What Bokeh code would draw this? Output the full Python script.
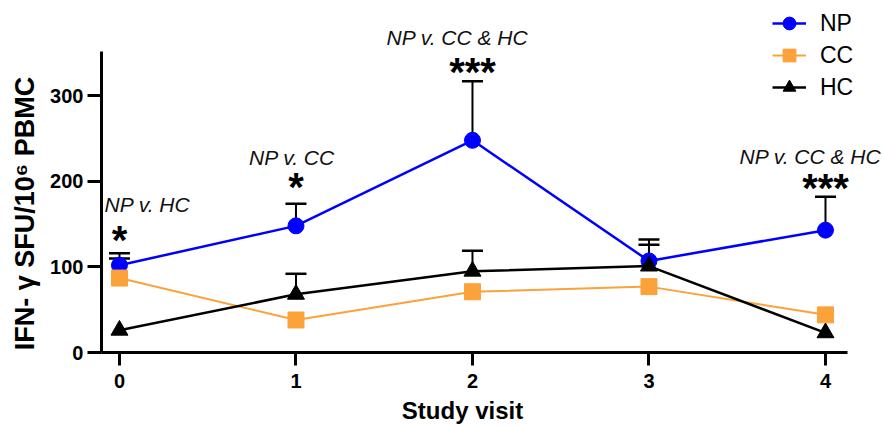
import math
from bokeh.plotting import figure
from bokeh.models import (Range1d, FixedTicker, Legend, LegendItem,
                          ColumnDataSource, Label, LinearAxis)
from bokeh.core.properties import value
from bokeh.embed import file_html
from bokeh.resources import INLINE

# ---- data ----
visits = [0, 1, 2, 3, 4]
np_mean = [102, 148, 248, 107, 143]
np_err = [14, 26, 69, 25, 39]
cc_mean = [87, 38, 71, 77, 44]
cc_err = [23, 0, 0, 0, 0]
hc_mean = [26, 68, 95, 101, 23]
hc_err = [0, 24, 24, 25, 0]

x_ticks = [0, 1, 2, 3, 4]
y_ticks = [0, 100, 200, 300]

sig_visits = [0, 1, 2, 4]
sig_text = ["NP v. HC", "NP v. CC", "NP v. CC & HC", "NP v. CC & HC"]
sig_stars = ["*", "*", "***", "***"]
# annotation anchors (value units) and horizontal shifts (px)
sig_text_y = [173, 227.5, 368.5, 229.5]
sig_text_dx = [28, -4, -15, -15]
sig_star_y = [131, 193, 328, 192]

x_title = "Study visit"
y_title = "IFN- \u03b3 SFU/10\u2076 PBMC"

NP_COLOR = "#0000FF"
CC_COLOR = "#FBA23A"
HC_COLOR = "#000000"
FONT = "Liberation Sans"

X0, X1 = -0.102, 4.125   # drawn extent of the x axis
Y1 = 352                 # drawn top of the y axis

p = figure(width=882, height=427, output_backend="svg", toolbar_location=None,
           x_range=Range1d(-0.674, 4.323), y_range=Range1d(-87.65, 411.4),
           x_axis_location=None, y_axis_location=None,
           min_border_left=0, min_border_right=0, min_border_top=0,
           min_border_bottom=0)
p.outline_line_color = None
p.grid.visible = False

xaxis = LinearAxis(fixed_location=0, ticker=FixedTicker(ticks=x_ticks),
                   bounds=(X0, X1), major_tick_out=13,
                   major_label_standoff=8)
yaxis = LinearAxis(fixed_location=X0, ticker=FixedTicker(ticks=y_ticks),
                   bounds=(0, Y1), major_tick_out=14,
                   major_label_standoff=4)
for ax in (xaxis, yaxis):
    ax.axis_line_width = 3
    ax.axis_line_color = "black"
    ax.major_tick_line_width = 3
    ax.major_tick_line_color = "black"
    ax.major_tick_in = 0
    ax.minor_tick_line_color = None
    ax.major_label_text_font = FONT
    ax.major_label_text_font_style = "bold"
    ax.major_label_text_font_size = "20px"
    ax.major_label_text_color = "black"
p.add_layout(xaxis, "below")
p.add_layout(yaxis, "left")

# axis titles (canvas pixel units, frame fills the canvas)
p.add_layout(Label(x=24, y=214, x_units="screen", y_units="screen",
                   text=y_title, angle=math.pi / 2, text_align="center",
                   text_baseline="middle", text_font=FONT,
                   text_font_style="bold", text_font_size="27px",
                   text_color="black"))
p.add_layout(Label(x=462, y=17, x_units="screen", y_units="screen",
                   text=x_title, text_align="center",
                   text_baseline="middle", text_font=FONT,
                   text_font_style="bold", text_font_size="24px",
                   text_color="black"))

series = [
    ("NP", np_mean, np_err, NP_COLOR, "circle", 16, 2.5),
    ("CC", cc_mean, cc_err, CC_COLOR, "square", 16, 2),
    ("HC", hc_mean, hc_err, HC_COLOR, "triangle", 17, 2.5),
]

# error bars (upper only, black) drawn first
for name, mean, err, color, marker, size, lw in series:
    xs = [v for v, e in zip(visits, err) if e > 0]
    lo = [m for m, e in zip(mean, err) if e > 0]
    hi = [m + e for m, e in zip(mean, err) if e > 0]
    src = ColumnDataSource(dict(x=xs, lo=lo, hi=hi))
    p.segment(x0="x", y0="lo", x1="x", y1="hi", source=src,
              line_color="black", line_width=2)
    p.scatter(x="x", y="hi", source=src, marker="dash", size=21,
              line_color="black", line_width=2.5)

items = []
for name, mean, err, color, marker, size, lw in series:
    src = ColumnDataSource(dict(x=visits, y=mean))
    r1 = p.line(x="x", y="y", source=src, line_color=color, line_width=lw)
    r2 = p.scatter(x="x", y="y", source=src, marker=marker, size=size,
                   fill_color=color, line_color=color, line_width=1)
    items.append(LegendItem(label=name, renderers=[r1, r2]))

legend = Legend(items=items, location=(772, 324), glyph_width=34,
                glyph_height=32, label_height=32, spacing=0,
                label_standoff=14, padding=0, margin=0,
                border_line_color=None, background_fill_alpha=0,
                label_text_font=FONT, label_text_font_size="23px",
                label_text_color="black")
p.add_layout(legend, "center")

# significance annotations
ann = ColumnDataSource(dict(x=sig_visits, ty=sig_text_y, dx=sig_text_dx,
                            sy=sig_star_y, t=sig_text, s=sig_stars))
p.text(x="x", y="ty", text="t", x_offset="dx", source=ann,
       text_align="center", text_baseline="alphabetic",
       text_font=value(FONT), text_font_style="italic",
       text_font_size="21px", text_color="#111111")
p.text(x="x", y="sy", text="s", source=ann,
       text_align="center", text_baseline="alphabetic",
       text_font=value(FONT), text_font_style="bold",
       text_font_size="40px", text_color="black")

open("out.html", "w").write(file_html(p, INLINE))
